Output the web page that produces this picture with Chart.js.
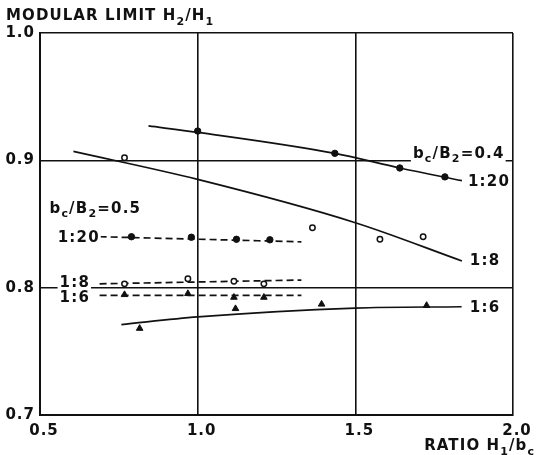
<!DOCTYPE html>
<html><head><meta charset="utf-8">
<script src="https://cdn.jsdelivr.net/npm/chart.js@4"></script>
<style>html,body{margin:0;padding:0;background:#fff}</style>
</head><body>
<canvas id="c" width="536" height="455"></canvas>
<script>
// ---- tick labels ----
const xTickLabels = ['0.5', '1.0', '1.5', '2.0'];
const yTickLabels = ['0.7', '0.8', '0.9', '1.0'];

// ---- bc/B2 = 0.4 (solid fitted curves + markers) ----
const fit04_20_x = [0.844, 1.0, 1.435, 1.641, 1.838];
const fit04_20_y = [0.927, 0.922, 0.9055, 0.894, 0.884];
const pts04_20_x = [1.0, 1.435, 1.641, 1.784];
const pts04_20_y = [0.923, 0.9055, 0.894, 0.887];

const fit04_8_x = [0.606, 1.0, 1.5, 1.838];
const fit04_8_y = [0.907, 0.885, 0.851, 0.821];
const pts04_8_x = [0.768, 1.364, 1.578, 1.715];
const pts04_8_y = [0.902, 0.847, 0.838, 0.840];

const fit04_6_x = [0.758, 1.0, 1.5, 1.837];
const fit04_6_y = [0.771, 0.777, 0.784, 0.785];
const pts04_6_x = [0.816, 1.12, 1.393, 1.726];
const pts04_6_y = [0.768, 0.7835, 0.787, 0.786];

// ---- bc/B2 = 0.5 (dashed lines + markers) ----
const fit05_x = [0.689, 1.329];
const fit05_20_y = [0.840, 0.836];
const fit05_8_y = [0.803, 0.806];
const fit05_6_y = [0.794, 0.794];
const pts05_20_x = [0.79, 0.98, 1.123, 1.229];
const pts05_20_y = [0.840, 0.8396, 0.838, 0.8376];
const pts05_x = [0.768, 0.969, 1.115, 1.21];
const pts05_8_y = [0.803, 0.807, 0.805, 0.803];
const pts05_6_y = [0.7945, 0.7953, 0.7924, 0.7924];

// ---- text ----
const yTitle = [['MODULAR LIMIT H', 0], ['2', 1], ['/H', 0], ['1', 1]];
const xTitle = [['RATIO H', 0], ['1', 1], ['/b', 0], ['c', 1]];
const annotations = [
  { parts: [['b', 0], ['c', 1], ['/B', 0], ['2', 1], ['=0.4', 0]], x: 1.6825, y: 0.9019 },
  { parts: [['1:20', 0]], x: 1.857, y: 0.8799 },
  { parts: [['1:8', 0]], x: 1.863, y: 0.8178 },
  { parts: [['1:6', 0]], x: 1.863, y: 0.7809 },
  { parts: [['b', 0], ['c', 1], ['/B', 0], ['2', 1], ['=0.5', 0]], x: 0.530, y: 0.8587 },
  { parts: [['1:20', 0]], x: 0.556, y: 0.8359 },
  { parts: [['1:8', 0]], x: 0.562, y: 0.8005 },
  { parts: [['1:6', 0]], x: 0.562, y: 0.7887 }
];

const zip = (xs, ys) => xs.map((x, i) => ({ x: x, y: ys[i] }));
const INK = '#111';
const FONT = 'DejaVu Sans';

function lineDs(xs, ys, dashed) {
  return {
    data: zip(xs, ys), showLine: true, pointRadius: 0, borderColor: INK,
    borderWidth: 1.7, borderDash: dashed ? [7, 4] : [], cubicInterpolationMode: 'monotone',
    fill: false, order: 2
  };
}
function ptDs(xs, ys, style, hollow) {
  return {
    data: zip(xs, ys), showLine: false, pointStyle: style,
    pointRadius: style === 'triangle' ? 3.8 : (hollow ? 2.7 : 3.2),
    pointBackgroundColor: hollow ? '#fff' : INK, pointBorderColor: INK,
    pointBorderWidth: hollow ? 1.5 : 1, order: 1
  };
}

function fontStr(size) { return 'bold ' + size + 'px "' + FONT + '"'; }
function richWidth(ctx, parts, size) {
  let w = 0;
  parts.forEach(p => {
    ctx.font = fontStr(p[1] ? Math.round(size * 0.72) : size);
    w += ctx.measureText(p[0]).width;
  });
  return w;
}
function drawRich(ctx, parts, x, y, size, align, bg, spacing) {
  ctx.save();
  ctx.letterSpacing = spacing + 'px';
  const w = richWidth(ctx, parts, size);
  let cx = align === 'right' ? x - w : x;
  if (bg) {
    ctx.fillStyle = '#fff';
    ctx.fillRect(cx - 2, y - size * 0.8, w + 3, size * 1.15);
  }
  ctx.fillStyle = INK;
  ctx.textBaseline = 'alphabetic';
  ctx.textAlign = 'left';
  parts.forEach(p => {
    const s = p[1] ? Math.round(size * 0.72) : size;
    ctx.font = fontStr(s);
    ctx.fillText(p[0], cx, p[1] ? y + size * 0.3 : y);
    cx += ctx.measureText(p[0]).width;
  });
  ctx.restore();
}

const textPlugin = {
  id: 'texts',
  beforeDraw(chart) { chart.ctx.letterSpacing = '1px'; },
  afterDatasetsDraw(chart) {
    const ctx = chart.ctx;
    const xs = chart.scales.x, ys = chart.scales.y;
    annotations.forEach(a => {
      drawRich(ctx, a.parts, xs.getPixelForValue(a.x), ys.getPixelForValue(a.y), 15, 'left', true, 1.2);
    });
    drawRich(ctx, yTitle, 6, 20, 15, 'left', false, 1.1);
    drawRich(ctx, xTitle, 535, 450, 15, 'right', false, 1.1);
  }
};

const labelFor = (arr) => (v) => {
  const f = arr.find(l => Math.abs(parseFloat(l) - v) < 1e-6);
  return f === undefined ? '' : f;
};

new Chart(document.getElementById('c'), {
  type: 'scatter',
  data: {
    datasets: [
      ptDs(pts04_20_x, pts04_20_y, 'circle', false),
      ptDs(pts04_8_x, pts04_8_y, 'circle', true),
      ptDs(pts04_6_x, pts04_6_y, 'triangle', false),
      ptDs(pts05_20_x, pts05_20_y, 'circle', false),
      ptDs(pts05_x, pts05_8_y, 'circle', true),
      ptDs(pts05_x, pts05_6_y, 'triangle', false),
      lineDs(fit04_20_x, fit04_20_y, false),
      lineDs(fit04_8_x, fit04_8_y, false),
      lineDs(fit04_6_x, fit04_6_y, false),
      lineDs(fit05_x, fit05_20_y, true),
      lineDs(fit05_x, fit05_8_y, true),
      lineDs(fit05_x, fit05_6_y, true)
    ]
  },
  options: {
    responsive: false, animation: false, devicePixelRatio: 1,
    layout: { padding: { top: 33, right: 23, left: 0, bottom: 0 } },
    plugins: { legend: { display: false }, tooltip: { enabled: false } },
    scales: {
      x: {
        type: 'linear', min: 0.5, max: 2.0,
        ticks: { stepSize: 0.5, callback: labelFor(xTickLabels), color: INK,
          font: { family: FONT, size: 15, weight: 'bold' }, padding: 7, labelOffset: 4, maxRotation: 0 },
        grid: { color: INK, lineWidth: 1.6, drawTicks: false },
        border: { color: INK, width: 2 },
        afterFit(s) { s.height = 40; }
      },
      y: {
        type: 'linear', min: 0.7, max: 1.0,
        ticks: { stepSize: 0.1, callback: labelFor(yTickLabels), color: INK,
          font: { family: FONT, size: 15, weight: 'bold' }, padding: 5 },
        grid: { color: INK, lineWidth: 1.6, drawTicks: false },
        border: { color: INK, width: 2 },
        afterFit(s) { s.width = 40; }
      }
    }
  },
  plugins: [textPlugin]
});
</script>
</body></html>
